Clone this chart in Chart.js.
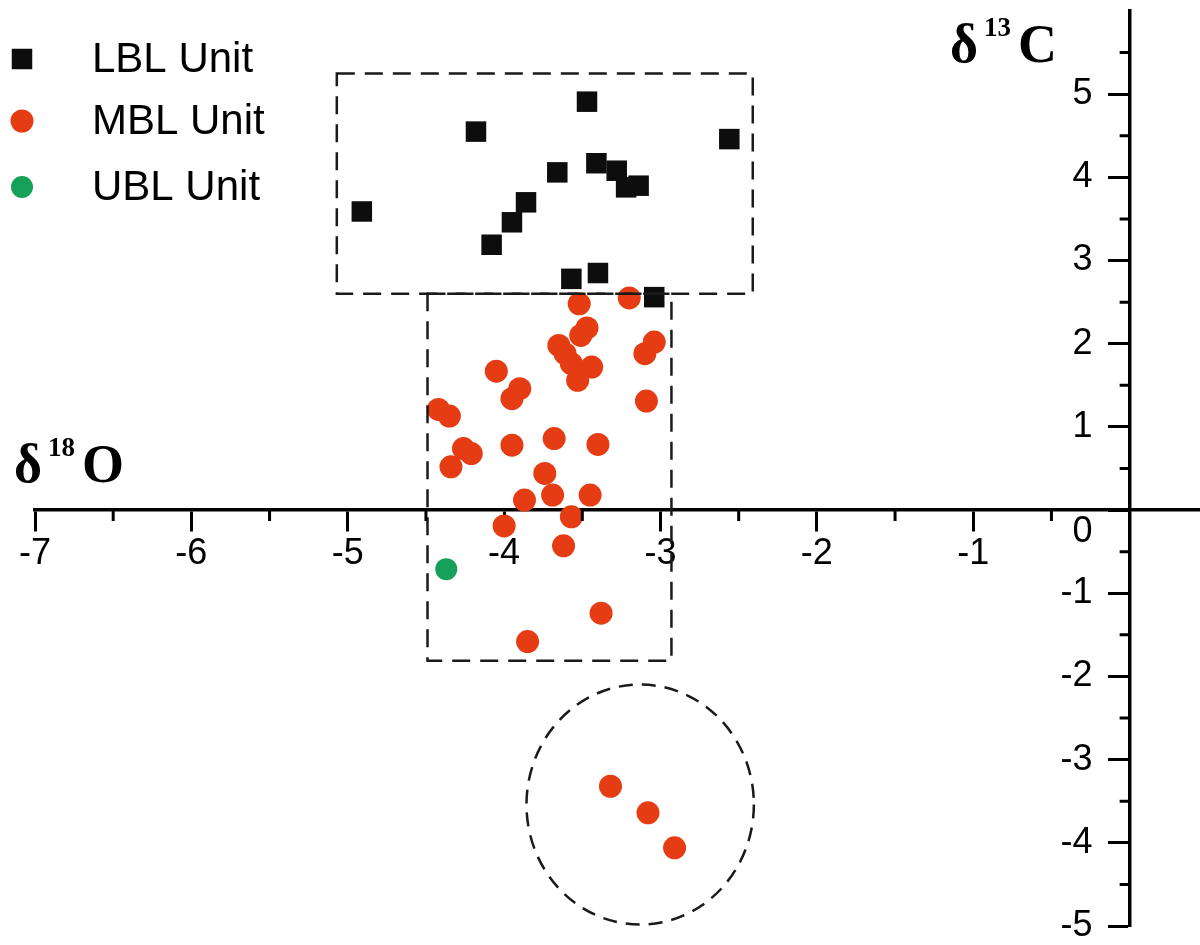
<!DOCTYPE html>
<html>
<head>
<meta charset="utf-8">
<script src="https://cdn.jsdelivr.net/npm/chart.js@4.4.1/dist/chart.umd.min.js"></script>
<style>
  html, body { margin: 0; padding: 0; background: #fff; overflow: hidden; }
  #wrap { width: 1200px; height: 945px; position: relative; }
  #isoChart { display: block; }
</style>
</head>
<body>
<div id="wrap"><canvas id="isoChart"></canvas></div>
<script>
// δ18O (x) and δ13C (y) values per unit
const lblO = [-4.91, -4.18, -3.47, -2.56, -3.41, -3.28, -3.22, -3.14, -3.66, -3.86, -3.95, -4.08, -3.57, -3.40, -3.04];
const lblC = [ 3.59,  4.55,  4.91,  4.46,  4.17,  4.08,  3.88,  3.90,  4.06,  3.70,  3.46,  3.19,  2.78,  2.85,  2.56];

const mblO = [-3.52, -3.20, -3.47, -3.51, -3.65, -3.61, -3.57, -3.44, -3.53, -3.04, -3.10, -4.05,
              -3.90, -3.95, -3.09, -4.42, -4.35, -4.26, -4.21, -4.34, -3.95, -3.68, -3.40, -3.74,
              -3.87, -3.69, -3.45, -3.57, -4.00, -3.62, -3.38, -3.85, -3.32, -3.08, -2.91];
const mblC = [ 2.48,  2.55,  2.19,  2.10,  1.98,  1.88,  1.76,  1.72,  1.56,  2.02,  1.88,  1.67,
               1.46,  1.34,  1.31,  1.21,  1.13,  0.74,  0.68,  0.52,  0.78,  0.86,  0.79,  0.44,
               0.12,  0.18,  0.18, -0.08, -0.19, -0.43, -1.24, -1.58, -3.32, -3.64, -4.06];

const ublO = [-4.37];
const ublC = [-0.71];

const seriesNames = ['LBL Unit', 'MBL Unit', 'UBL Unit'];

// axis ticks
const xTicks = [-7, -6, -5, -4, -3, -2, -1];
const xMinor = [-6.5, -5.5, -4.5, -3.5, -2.5, -1.5, -0.5];
const yTicks = [-5, -4, -3, -2, -1, 0, 1, 2, 3, 4, 5];
const yMinor = [-4.5, -3.5, -2.5, -1.5, -0.5, 0.5, 1.5, 2.5, 3.5, 4.5, 5.5];

// dashed groupings (data units)
const lblBox = { xMin: -5.07, xMax: -2.41, yMin: 2.60, yMax: 5.25 };
const mblBox = { xMin: -4.49, xMax: -2.93, yMin: -1.81, yMax: 2.60 };
const outlierRing = { x: -3.13, y: -3.54, rx: 0.727, ry: 1.443 };

const pairs = (xs, ys) => xs.map((v, i) => ({ x: v, y: ys[i] }));

const colors = {
    lbl: '#0d0d0d',
    mbl: '#e63c14',
    ubl: '#16a05a'
};

const tickFont = { family: '"Liberation Sans", Arial, sans-serif', size: 36 };
// labels sit left of the y axis line, so pad them on the right
const ySpacer = '   \u2009';

// no label overhang padding: keep the plot area exactly where layout.padding puts it
const noOverhang = (s) => {
    s.paddingLeft = 0; s.paddingRight = 0;
    s.paddingTop = 0; s.paddingBottom = 0;
};

// minor ticks, dashed outlines, legend and the two axis titles
const extras = {
    id: 'extras',
    afterDatasetsDraw(chart) {
        const { ctx, scales: { x, y } } = chart;
        ctx.save();
        ctx.strokeStyle = '#1a1a1a';
        ctx.lineWidth = 2.5;
        ctx.setLineDash([18, 10]);
        [lblBox, mblBox].forEach(b => {
            const l = x.getPixelForValue(b.xMin), r = x.getPixelForValue(b.xMax);
            const t = y.getPixelForValue(b.yMax), btm = y.getPixelForValue(b.yMin);
            ctx.strokeRect(l, t, r - l, btm - t);
        });
        const cx = x.getPixelForValue(outlierRing.x);
        const cy = y.getPixelForValue(outlierRing.y);
        const rx = x.getPixelForValue(outlierRing.x + outlierRing.rx) - cx;
        const ry = cy - y.getPixelForValue(outlierRing.y + outlierRing.ry);
        ctx.setLineDash([14, 9]);
        ctx.beginPath();
        ctx.ellipse(cx, cy, rx, ry, 0, 0, Math.PI * 2);
        ctx.stroke();
        ctx.restore();
    },
    afterDraw(chart) {
        const { ctx, scales: { x, y } } = chart;
        const x0 = x.getPixelForValue(0);
        const y0 = y.getPixelForValue(0);
        ctx.save();
        ctx.strokeStyle = '#000';
        ctx.lineWidth = 3;
        ctx.beginPath();
        xMinor.forEach(v => {
            const px = x.getPixelForValue(v);
            ctx.moveTo(px, y0);
            ctx.lineTo(px, y0 + 11);
        });
        yMinor.forEach(v => {
            const py = y.getPixelForValue(v);
            ctx.moveTo(x0, py);
            ctx.lineTo(x0 - 10, py);
        });
        ctx.stroke();

        // legend
        const rows = [59, 121, 187];
        ctx.font = '42px "Liberation Sans", Arial, sans-serif';
        ctx.textBaseline = 'middle';
        ctx.textAlign = 'left';
        chart.data.datasets.forEach((ds, i) => {
            ctx.fillStyle = ds.backgroundColor;
            Chart.helpers.drawPoint(ctx, { pointStyle: ds.pointStyle, radius: ds.pointRadius, rotation: 0, borderWidth: 0 }, 22, rows[i]);
            ctx.fillStyle = '#000';
            ctx.fillText(ds.label, 92, rows[i] + 1);
        });

        // axis titles: δ18O and δ13C
        const title = (sym, sup, letter, left, base) => {
            ctx.fillStyle = '#000';
            ctx.textBaseline = 'alphabetic';
            ctx.font = 'bold 54px "Liberation Serif", "Times New Roman", serif';
            ctx.fillText(sym, left, base);
            let cur = left + ctx.measureText(sym).width + 6;
            ctx.font = 'bold 27px "Liberation Serif", "Times New Roman", serif';
            ctx.fillText(sup, cur, base - 26);
            cur += ctx.measureText(sup).width + 7;
            ctx.font = 'bold 54px "Liberation Serif", "Times New Roman", serif';
            ctx.fillText(letter, cur, base);
        };
        title('δ', '18', 'O', 14, 482);
        title('δ', '13', 'C', 950, 62);
        ctx.restore();
    }
};

new Chart(document.getElementById('isoChart').getContext('2d'), {
    type: 'scatter',
    data: {
        datasets: [
            { label: seriesNames[0], data: pairs(lblO, lblC), pointStyle: 'rect', pointRadius: 14.5,
              backgroundColor: colors.lbl, borderWidth: 0 },
            { label: seriesNames[1], data: pairs(mblO, mblC), pointStyle: 'circle', pointRadius: 11.5,
              backgroundColor: colors.mbl, borderWidth: 0 },
            { label: seriesNames[2], data: pairs(ublO, ublC), pointStyle: 'circle', pointRadius: 11,
              backgroundColor: colors.ubl, borderWidth: 0 }
        ]
    },
    options: {
        responsive: true,
        maintainAspectRatio: false,
        animation: false,
        layout: { autoPadding: false, padding: { left: 35, right: 0, top: 11, bottom: 19 } },
        plugins: {
            legend: { display: false },
            tooltip: { enabled: false }
        },
        scales: {
            x: {
                type: 'linear',
                min: -7, max: 0.45,
                position: { y: 0 },
                afterBuildTicks: (s) => { s.ticks = xTicks.map(v => ({ value: v })); },
                afterFit: noOverhang,
                ticks: { font: tickFont, color: '#000', padding: 2, autoSkip: false, maxRotation: 0 },
                grid: { drawOnChartArea: false, drawTicks: true, tickLength: 20, tickWidth: 3, tickColor: '#000' },
                border: { display: true, width: 3.5, color: '#000' }
            },
            y: {
                type: 'linear',
                min: -5, max: 6,
                position: { x: 0 },
                afterBuildTicks: (s) => { s.ticks = yTicks.map(v => ({ value: v })); },
                afterFit: noOverhang,
                ticks: {
                    font: tickFont, color: '#000', autoSkip: false,
                    callback: (v) => v === 0 ? ['', '0' + ySpacer] : String(v) + ySpacer
                },
                grid: { drawOnChartArea: false, drawTicks: true, tickLength: 20, tickWidth: 3, tickColor: '#000' },
                border: { display: true, width: 3.5, color: '#000' }
            }
        }
    },
    plugins: [extras]
});
</script>
</body>
</html>
